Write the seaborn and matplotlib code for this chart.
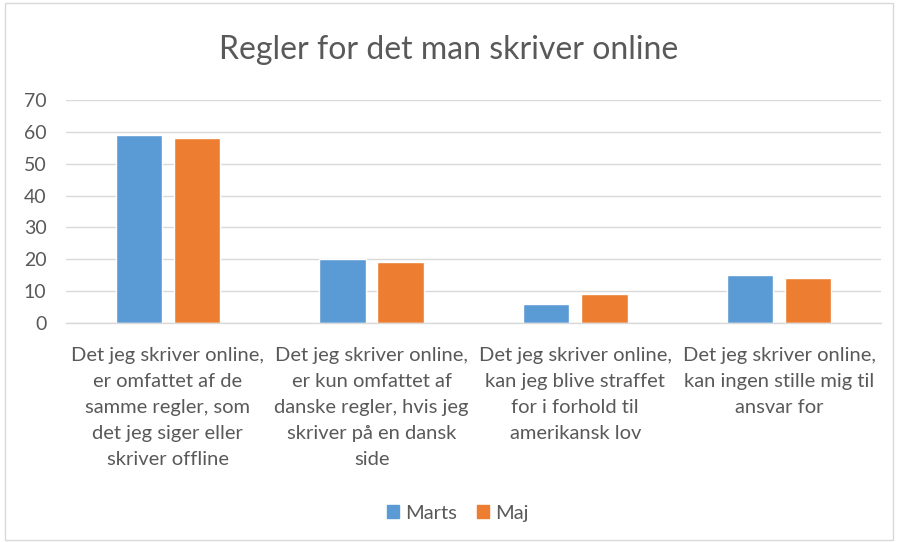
import pandas as pd
import numpy as np
import matplotlib.pyplot as plt
import seaborn as sns
from matplotlib.patches import Rectangle

# Data
categories = [
    "Det jeg skriver online,\ner omfattet af de\nsamme regler, som\ndet jeg siger eller\nskriver offline",
    "Det jeg skriver online,\ner kun omfattet af\ndanske regler, hvis jeg\nskriver på en dansk\nside",
    "Det jeg skriver online,\nkan jeg blive straffet\nfor i forhold til\namerikansk lov",
    "Det jeg skriver online,\nkan ingen stille mig til\nansvar for",
]
series_names = ["Marts", "Maj"]
marts = [59, 20, 6, 15]
maj = [58, 19, 9, 14]
yticks = [0, 10, 20, 30, 40, 50, 60, 70]

colors = ["#5b9bd5", "#ed7d31"]
text_color = "#595959"
grid_color = "#d9d9d9"

df = pd.DataFrame({
    "category": categories * 2,
    "series": [series_names[0]] * len(marts) + [series_names[1]] * len(maj),
    "value": marts + maj,
})

sns.set_theme(style="white")
plt.rcParams['font.family'] = ['Lato', 'DejaVu Sans']

fig = plt.figure(figsize=(8.97, 5.42), dpi=100)
ax = fig.add_axes([0.0736, 0.404, 0.9084, 0.4115])

sns.barplot(data=df, x="category", y="value", hue="series", palette=colors,
            saturation=1, width=0.57, gap=0.2, ax=ax, legend=True)

ax.set_ylim(0, 70)
ax.set_yticks(yticks)
ax.set_xlim(-0.5, len(categories) - 0.5)
ax.grid(axis="y", color=grid_color, linewidth=1)
ax.set_axisbelow(True)
for s in ["top", "right", "left"]:
    ax.spines[s].set_visible(False)
ax.spines["bottom"].set_color(grid_color)
ax.spines["bottom"].set_linewidth(1)
ax.tick_params(axis="both", length=0, colors=text_color)
ax.tick_params(axis="y", pad=14, labelsize=14)
ax.tick_params(axis="x", pad=17, labelsize=14.5)
for lbl in ax.get_xticklabels():
    lbl.set_linespacing(1.65)
ax.set_xlabel("")
ax.set_ylabel("")

fig.suptitle("Regler for det man skriver online", y=0.935, fontsize=23, color=text_color)

ax.legend_.remove()
handles = [Rectangle((0, 0), 1, 1, color=c) for c in colors]
fig.legend(handles, series_names, loc="center", bbox_to_anchor=(0.51, 0.053),
           ncol=2, frameon=False, fontsize=14.5, handlelength=0.6, handleheight=0.6,
           handletextpad=0.3, columnspacing=1.0, labelcolor=text_color)

# chart border
fig.patches.append(Rectangle((0.006, 0.004), 0.99, 0.99, transform=fig.transFigure,
                             fill=False, edgecolor="#d9d9d9", linewidth=1))

fig.savefig("out.png", dpi=100)
